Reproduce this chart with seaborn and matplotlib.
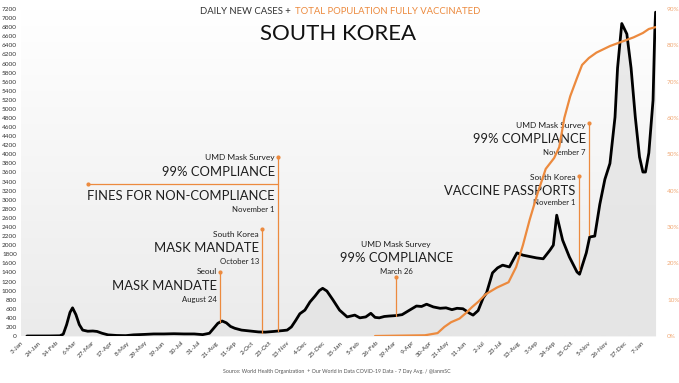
import numpy as np
import pandas as pd
import seaborn as sns
import matplotlib.pyplot as plt
from matplotlib.colors import LinearSegmentedColormap
from matplotlib.transforms import offset_copy

# 7-day average of daily new cases
case_dates = [
    '2020-01-10', '2020-02-05', '2020-02-18', '2020-02-22', '2020-02-26', '2020-03-01',
    '2020-03-04', '2020-03-08', '2020-03-12', '2020-03-16', '2020-03-22', '2020-03-28',
    '2020-04-02', '2020-04-08', '2020-04-15', '2020-04-25', '2020-05-06', '2020-05-15',
    '2020-05-28', '2020-06-08', '2020-06-20', '2020-07-02', '2020-07-14', '2020-07-26',
    '2020-08-05', '2020-08-13', '2020-08-18', '2020-08-23', '2020-08-28', '2020-09-02',
    '2020-09-07', '2020-09-12', '2020-09-20', '2020-09-30', '2020-10-10', '2020-10-18',
    '2020-10-28', '2020-11-08', '2020-11-13', '2020-11-18', '2020-11-23', '2020-11-28',
    '2020-12-04', '2020-12-10', '2020-12-16', '2020-12-21', '2020-12-25', '2020-12-30',
    '2021-01-06', '2021-01-14', '2021-01-23', '2021-02-01', '2021-02-07', '2021-02-14',
    '2021-02-20', '2021-02-25', '2021-03-02', '2021-03-08', '2021-03-14', '2021-03-22',
    '2021-03-29', '2021-04-06', '2021-04-15', '2021-04-21', '2021-04-27', '2021-05-05',
    '2021-05-13', '2021-05-20', '2021-05-27', '2021-06-02', '2021-06-09', '2021-06-17',
    '2021-06-21', '2021-06-27', '2021-07-03', '2021-07-07', '2021-07-14', '2021-07-20',
    '2021-07-26', '2021-08-03', '2021-08-12', '2021-08-19', '2021-08-27', '2021-09-04',
    '2021-09-12', '2021-09-20', '2021-09-24', '2021-09-28', '2021-10-05', '2021-10-13',
    '2021-10-22', '2021-10-25', '2021-11-02', '2021-11-06', '2021-11-12', '2021-11-18',
    '2021-11-24', '2021-11-30', '2021-12-06', '2021-12-09', '2021-12-14', '2021-12-20',
    '2021-12-25', '2021-12-30', '2022-01-04', '2022-01-08', '2022-01-11', '2022-01-15',
    '2022-01-20', '2022-01-22', '2022-01-23',
]
case_values = [
    0, 1, 5, 40, 250, 520,
    620, 470, 250, 130, 105, 110,
    100, 60, 25, 12, 8, 25,
    35, 45, 45, 50, 45, 45,
    30, 60, 170, 280, 330, 290,
    210, 170, 130, 110, 90, 85,
    100, 120, 130, 200, 340, 490,
    570, 750, 880, 1000, 1050, 990,
    800, 570, 420, 460, 400, 420,
    500, 410, 400, 430, 440, 450,
    470, 560, 660, 650, 700, 640,
    610, 620, 580, 610, 600, 500,
    460, 560, 840, 950, 1390, 1500,
    1560, 1520, 1830, 1780, 1750, 1720,
    1700, 1890, 2000, 2660, 2110, 1740,
    1410, 1360, 1830, 2180, 2200, 2900,
    3450, 3800, 4820, 5900, 6880, 6650,
    5900, 4820, 3940, 3610, 3610, 4030,
    5190, 6670, 7130,
]

# total population fully vaccinated (%)
vax_dates = [
    '2021-02-25', '2021-04-25', '2021-05-10', '2021-05-18', '2021-05-26', '2021-06-05',
    '2021-06-12', '2021-06-20', '2021-06-27', '2021-07-06', '2021-07-19', '2021-08-02',
    '2021-08-11', '2021-08-19', '2021-08-27', '2021-09-05', '2021-09-15', '2021-09-25',
    '2021-10-01', '2021-10-07', '2021-10-14', '2021-10-22', '2021-10-28', '2021-11-05',
    '2021-11-14', '2021-11-30', '2021-12-14', '2021-12-28', '2022-01-08', '2022-01-15',
    '2022-01-23',
]
vax_values = [
    0, 0.2, 0.8, 2.5, 3.8, 4.8,
    6.2, 8.0, 9.4, 11.5, 13.3, 14.8,
    19, 25, 32, 39, 46, 49,
    52, 60, 66, 71, 74.6, 76.5,
    78, 79.8, 81, 82.2, 83.4, 84.5,
    85,
]

# annotations
ann_dates = ['2020-08-25', '2020-10-14', '2020-11-02', '2021-03-22', '2021-10-24', '2021-11-05']
ann_top = [1410, 2350, 3940, 1300, 3520, 4690]
ann_bottom = [300, 70, 100, 440, 1450, 2220]
ann_small = ['Seoul', 'South Korea', 'UMD Mask Survey', 'UMD Mask Survey', 'South Korea', 'UMD Mask Survey']
ann_big = ['MASK MANDATE', 'MASK MANDATE', '99% COMPLIANCE', '99% COMPLIANCE', 'VACCINE PASSPORTS', '99% COMPLIANCE']
ann_date_text = ['August 24', 'October 13', '', 'March 26', 'November 1', 'November 7']
ann_text_y = [(1410, 1100, 810), (2240, 1940, 1630), (3920, 3610, None),
              (2020, 1720, 1430), (3500, 3190, 2930), (4640, 4330, 4050)]

ORANGE = '#ec8a3e'
ORANGE_LIGHT = '#f0a874'
DARK = '#1e1e1e'
BIG = 9.4

sns.set_theme(style="white")
plt.rcParams['font.family'] = ['Lato', 'DejaVu Sans']

cases = pd.DataFrame({'date': pd.to_datetime(case_dates), 'cases': case_values})
vax = pd.DataFrame({'date': pd.to_datetime(vax_dates), 'pct': vax_values})

fig = plt.figure(figsize=(6.79, 3.83), dpi=100)
ax = fig.add_axes([21 / 679, 47 / 383, 635 / 679, 327 / 383])

# background gradient (white at top, light grey at bottom)
grad = np.linspace(0, 1, 256).reshape(-1, 1)
cmap = LinearSegmentedColormap.from_list('bg', ['#ffffff', '#ebebeb'])
ax.imshow(grad, extent=[0, 1, 0, 1], transform=ax.transAxes, aspect='auto', cmap=cmap, zorder=0)

ax.fill_between(cases['date'], cases['cases'], color='#e3e3e3', alpha=0.75, lw=0, zorder=1)
sns.lineplot(data=cases, x='date', y='cases', ax=ax, color='black', lw=2.0, zorder=3)

ax.set_xlim(pd.Timestamp('2020-01-03'), pd.Timestamp('2022-01-23 12:00'))
ax.set_ylim(0, 7200)

ax2 = ax.twinx()
sns.lineplot(data=vax, x='date', y='pct', ax=ax2, color=ORANGE, lw=1.6, zorder=3)
ax2.set_ylim(0, 90)
ax2.set_xlim(ax.get_xlim())

# ticks
tick_dates = pd.date_range('2020-01-03', periods=36, freq='21D')
ax.set_xticks(tick_dates)
ax.set_xticklabels([f'{d.day}-{d.strftime("%b")}' for d in tick_dates],
                   rotation=45, ha='right', rotation_mode='anchor', fontsize=4.6, color='#333333')
ax.set_yticks(range(0, 7201, 200))
ax.set_yticklabels([str(v) for v in range(0, 7201, 200)], fontsize=4.6, color='#333333')
ax2.set_yticks(range(0, 91, 10))
ax2.set_yticklabels([f'{v}%' for v in range(0, 91, 10)], fontsize=4.6, color=ORANGE_LIGHT)
ax.tick_params(axis='both', length=0, pad=3)
ax2.tick_params(axis='y', length=0, pad=8)
for a in (ax, ax2):
    a.set_xlabel('')
    a.set_ylabel('')
    for s in a.spines.values():
        s.set_visible(False)

# annotations
txt_tr = offset_copy(ax.transData, fig=fig, x=-3, y=0, units='dots')
for i, d in enumerate(pd.to_datetime(ann_dates)):
    ax2.plot([d, d], [ann_bottom[i] / 80, ann_top[i] / 80], color=ORANGE, lw=0.9, zorder=2)
    ax2.plot([d], [ann_top[i] / 80], 'o', ms=2, color=ORANGE, zorder=2)
    y1, y2, y3 = ann_text_y[i]
    if i == 3:
        tr, ha = ax.transData, 'center'
    else:
        tr, ha = txt_tr, 'right'
    ax.text(d, y1, ann_small[i], transform=tr, ha=ha, va='center', fontsize=6, color=DARK, zorder=4)
    ax.text(d, y2, ann_big[i], transform=tr, ha=ha, va='center', fontsize=BIG, color=DARK, zorder=4)
    if y3 is not None:
        ax.text(d, y3, ann_date_text[i], transform=tr, ha=ha, va='center', fontsize=5.6, color=DARK, zorder=4)

# fines line for the November 1 annotation
fine_start = pd.Timestamp('2020-03-22')
fine_end = pd.Timestamp(ann_dates[2])
ax2.plot([fine_start, fine_end], [3340 / 80, 3340 / 80], color=ORANGE, lw=0.9, zorder=2)
ax2.plot([fine_start], [3340 / 80], 'o', ms=2, color=ORANGE, zorder=2)
ax.text(fine_end, 3080, 'FINES FOR NON-COMPLIANCE', transform=txt_tr, ha='right', va='center',
        fontsize=BIG, color=DARK, zorder=4)
ax.text(fine_end, 2790, 'November 1', transform=txt_tr, ha='right', va='center',
        fontsize=5.6, color=DARK, zorder=4)

# titles
fig.text(291 / 679, 372 / 383, 'DAILY NEW CASES +', ha='right', va='center', fontsize=6.8, color='#333333')
fig.text(295 / 679, 372 / 383, 'TOTAL POPULATION FULLY VACCINATED', ha='left', va='center',
         fontsize=6.8, color=ORANGE)
fig.text(338 / 679, 349 / 383, 'SOUTH KOREA', ha='center', va='center', fontsize=16, color='#111111')
fig.text(337 / 679, 11 / 383,
         'Source: World Health Organization  + Our World in Data COVID-19 Data - 7 Day Avg. / @ianmSC',
         ha='center', va='center', fontsize=3.8, color='#555555')

fig.savefig('out.png', dpi=100)
